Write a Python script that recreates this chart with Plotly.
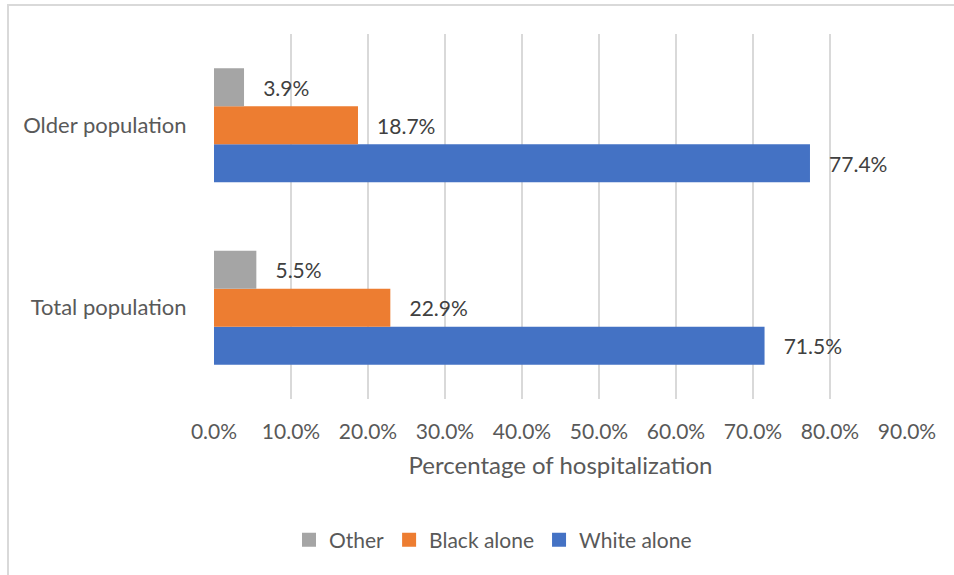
import plotly.graph_objects as go

categories = ["Total population", "Older population"]
white_alone = [71.5, 77.4]
black_alone = [22.9, 18.7]
other = [5.5, 3.9]
series_names = ["White alone", "Black alone", "Other"]
series_values = [white_alone, black_alone, other]
colors = ["#4472C4", "#ED7D31", "#A5A5A5"]
x_ticks = [0, 10, 20, 30, 40, 50, 60, 70, 80, 90]

W, H = 954, 575
ML, MR, MT, MB = 214, 47, 34, 176
FONT = "Lato"
pw = W - ML - MR
ph = H - MT - MB

fig = go.Figure()
for name, vals, col in zip(series_names, series_values, colors):
    fig.add_trace(go.Bar(
        y=categories, x=vals, orientation="h", name=name,
        marker=dict(color=col, line=dict(width=0)),
        text=[f"\u00a0\u00a0\u00a0{v:.1f}%" for v in vals],
        textposition="outside", cliponaxis=False,
        textfont=dict(family=FONT, size=21, color="#404040"),
        showlegend=False,
    ))

# legend entries with square swatches (order: Other, Black alone, White alone)
for name, col in zip(series_names[::-1], colors[::-1]):
    fig.add_trace(go.Scatter(
        x=[None], y=[None], mode="markers", name=name,
        marker=dict(symbol="square", size=14, color=col),
        showlegend=True,
    ))

def px_x(p):
    return (p - ML) / pw

def px_y(p):
    return (H - MB - p) / ph

fig.update_layout(
    width=W, height=H,
    margin=dict(l=ML, r=MR, t=MT, b=MB),
    paper_bgcolor="white", plot_bgcolor="white",
    barmode="group", bargap=0.375, bargroupgap=0,
    font=dict(family=FONT, size=21, color="#595959"),
    xaxis=dict(
        range=[0, 90], tickvals=x_ticks,
        ticktext=[f"{v:.1f}%" for v in x_ticks],
        showgrid=True, gridcolor="#D9D9D9", gridwidth=2,
        zeroline=False, showline=False,
        ticks="outside", ticklen=14, tickcolor="rgba(0,0,0,0)",
        tickfont=dict(family=FONT, size=21, color="#595959"),
        title=dict(text="Percentage of hospitalization",
                   font=dict(family=FONT, size=24, color="#595959"),
                   standoff=14),
    ),
    yaxis=dict(
        showgrid=False, zeroline=False, showline=False,
        ticks="outside", ticklen=22, tickcolor="rgba(0,0,0,0)",
        tickfont=dict(family=FONT, size=22, color="#595959"),
    ),
    legend=dict(
        orientation="h", xref="container", x=493 / W, xanchor="center",
        yref="container", y=1 - 540 / H, yanchor="middle",
        font=dict(family=FONT, size=21, color="#595959"),
        itemwidth=30, traceorder="normal",
    ),
    shapes=[dict(
        type="rect", xref="paper", yref="paper",
        x0=px_x(8), x1=px_x(W + 10), y0=px_y(H + 10), y1=px_y(5),
        line=dict(color="#D9D9D9", width=2), fillcolor="rgba(0,0,0,0)",
        layer="below",
    )],
)

fig.write_html("out.html")
